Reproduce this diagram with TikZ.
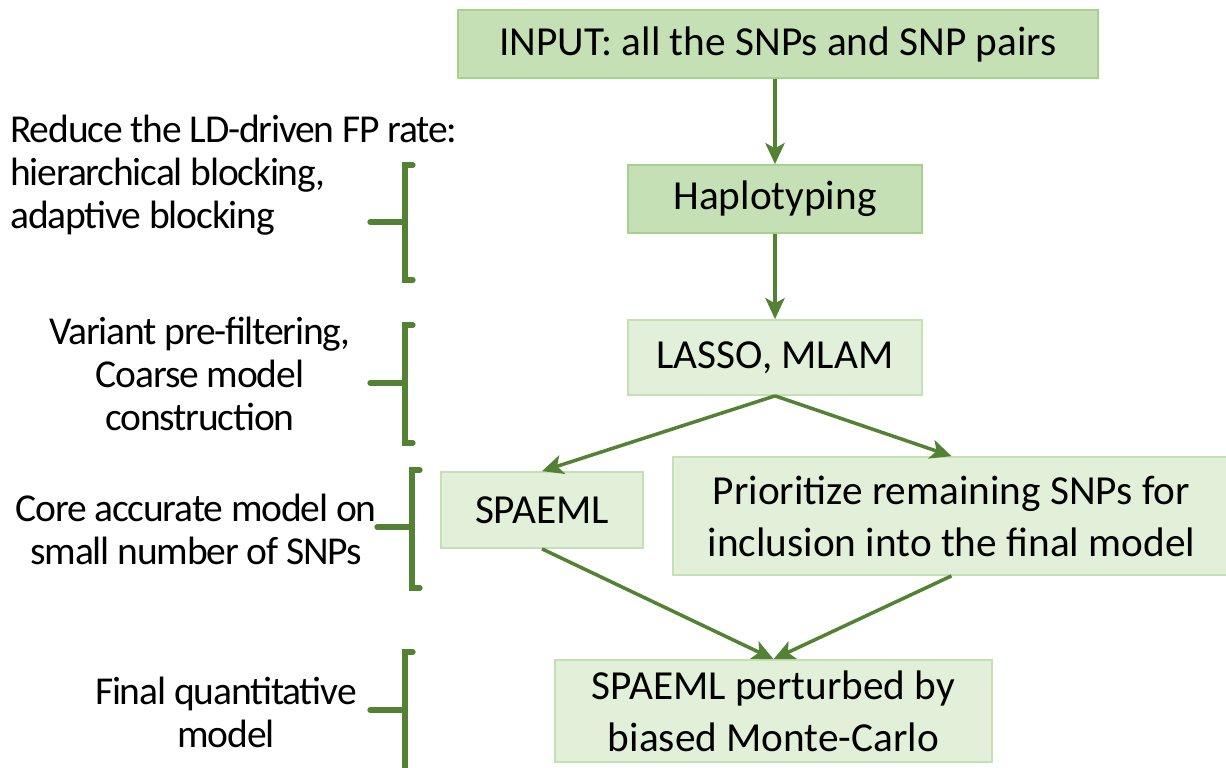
\documentclass[tikz,border=0pt]{standalone}
\usepackage{fontspec}
\setmainfont{Carlito}
\newfontfamily\sidefamily[LetterSpace=-3]{Carlito}
\usetikzlibrary{arrows.meta}
\definecolor{flowgreen}{HTML}{548235}
\definecolor{darkfill}{HTML}{C5E0B4}
\definecolor{darkedge}{HTML}{A9D18E}
\definecolor{lightfill}{HTML}{E2F0D9}
\definecolor{lightedge}{HTML}{C5E0B4}
\tikzset{
  darkbox/.style={draw=darkedge, fill=darkfill, line width=1pt, inner sep=0pt, align=center,
    font=\fontsize{23.5}{29.5}\selectfont},
  lightbox/.style={draw=lightedge, fill=lightfill, line width=1pt, inner sep=0pt, align=center,
    font=\fontsize{23.5}{29.5}\selectfont},
  flow/.style={draw=flowgreen, line width=2pt, -{Stealth[length=12pt,width=11pt,inset=3pt]}},
  bracket/.style={draw=flowgreen, line width=3pt, line cap=round},
  side/.style={inner sep=0pt, align=center, font=\sidefamily\fontsize{22.5}{24.5}\selectfont}
}

\begin{document}
\begin{tikzpicture}[x=0.02cm, y=-0.02cm]
\useasboundingbox (0,0) rectangle (1226,767);
% flow boxes
\node[darkbox, minimum width=12.8cm, minimum height=1.36cm] (input) at (778,44) {INPUT: all the SNPs and SNP pairs};
\node[darkbox, minimum width=5.88cm, minimum height=1.36cm] (haplo) at (775,199) {Haplotyping};
\node[lightbox, minimum width=5.88cm, minimum height=1.5cm] (lasso) at (775,357.5) {LASSO, MLAM};
\node[lightbox, minimum width=4.04cm, minimum height=1.52cm] (spaeml) at (542,510) {SPAEML};
\node[lightbox, minimum width=11.14cm, minimum height=2.36cm] (prio) at (951.5,516) {Prioritize remaining SNPs for\\inclusion into the final model};
\node[lightbox, minimum width=8.74cm, minimum height=2.04cm] (final) at (773.5,711) {SPAEML perturbed by\\biased Monte-Carlo};
% arrows
\draw[flow] (input.south -| haplo.north) -- (haplo.north);
\draw[flow] (haplo) -- (lasso);
\draw[flow] (lasso.south) -- (spaeml.north);
\draw[flow] (lasso.south) -- (prio.north);
\draw[flow] (spaeml.south) -- (final.north);
\draw[flow] (prio.south) -- (final.north);
% side notes
\node[side, anchor=west, align=left] (ldnote) at (10,175) {Reduce the LD-driven FP rate:\\hierarchical blocking,\\adaptive blocking};
\node[side] (filternote) at (200,374) {Variant pre-filtering,\\Coarse model\\construction};
\node[side] (corenote) at (196,529) {Core accurate model on\\small number of SNPs};
\node[side] (finalnote) at (226,712) {Final quantitative\\model};
% brackets
\foreach \bx/\by/\ey/\my in {405/165/280/222, 405/325/443/383, 412/470/588/527, 405/652/780/710}
  \draw[bracket] (\bx+8,\by) -- (\bx,\by) -- (\bx,\ey) -- (\bx+8,\ey)
    (\bx-35,\my) -- (\bx,\my);
\end{tikzpicture}
\end{document}
